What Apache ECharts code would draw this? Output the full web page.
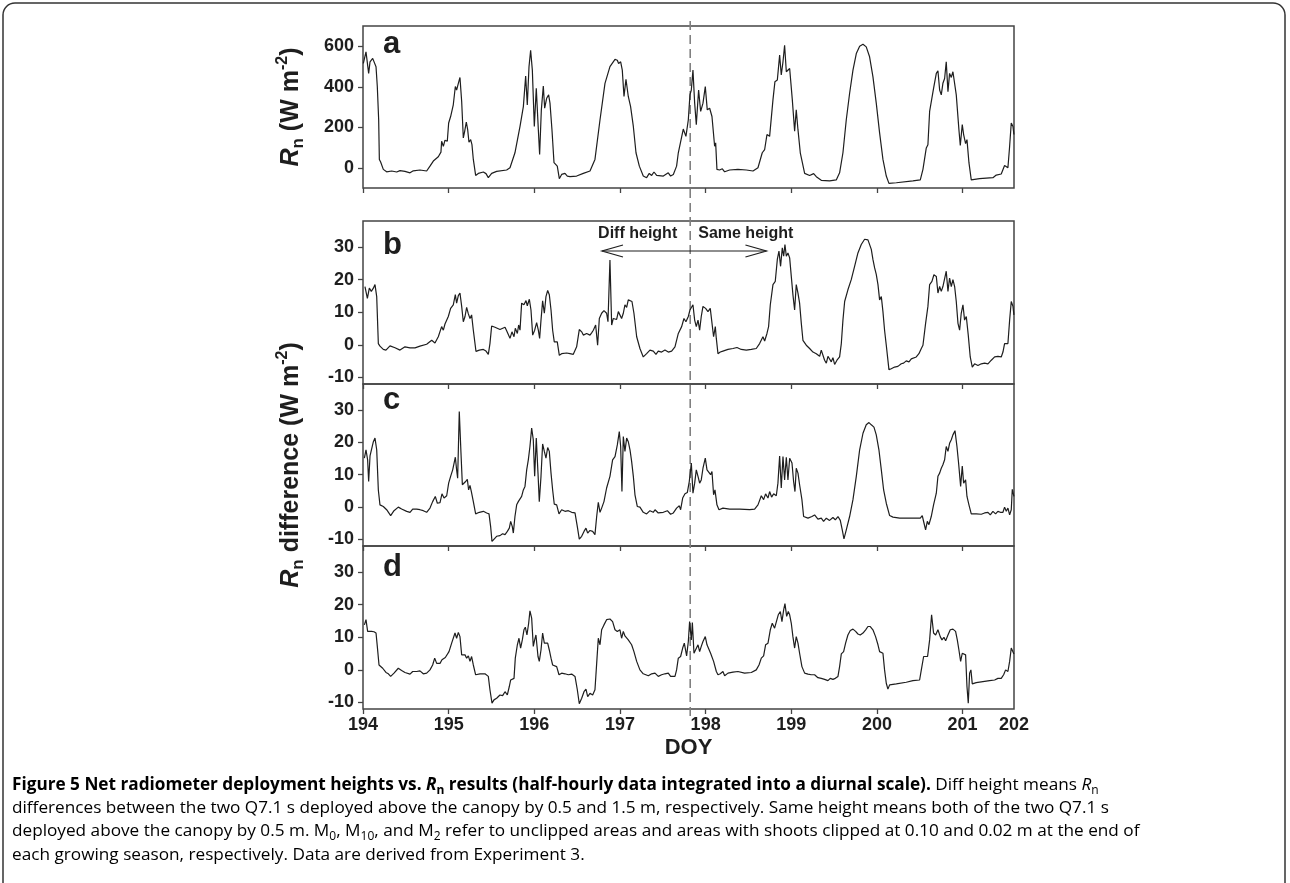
<!DOCTYPE html>
<html>
<head>
<meta charset="utf-8">
<script src="https://cdn.jsdelivr.net/npm/echarts@6/dist/echarts.min.js"></script>
<style>
html,body{margin:0;padding:0;background:#fff;}
#chart{width:1290px;height:883px;}
</style>
</head>
<body>
<div id="chart"></div>
<script>
// ---------------- data (DOY, value) ----------------
const doyTicks = [194, 195, 196, 197, 198, 199, 200, 201];
const doyMin = 194, doyMax = 201.6, doyEndLabel = '202';
const rnTicks = [0, 200, 400, 600];
const diffTicks = [-10, 0, 10, 20, 30];
const splitDOY = 197.82;

// a: Rn (W m-2)
const rnA = [[194.004,515],[194.035,572],[194.066,466],[194.082,523],[194.113,540],[194.132,535],[194.152,499],[194.167,401],[194.183,237],[194.191,41],[194.206,28],[194.237,-8],[194.276,-20],[194.335,-16],[194.393,-21],[194.432,-14],[194.49,-18],[194.549,-25],[194.587,-15],[194.665,-11],[194.743,-16],[194.782,8],[194.821,33],[194.879,54],[194.91,77],[194.918,131],[194.938,106],[194.957,136],[194.984,131],[195.0,221],[195.023,253],[195.054,311],[195.078,401],[195.093,384],[195.113,417],[195.132,446],[195.152,327],[195.171,147],[195.187,180],[195.206,226],[195.222,188],[195.237,126],[195.257,139],[195.272,114],[195.288,41],[195.315,-38],[195.346,-28],[195.405,-21],[195.436,-29],[195.463,-49],[195.502,-28],[195.56,-18],[195.677,-11],[195.716,0],[195.774,74],[195.833,204],[195.872,302],[195.899,453],[195.918,310],[195.938,499],[195.957,580],[195.977,482],[196.0,204],[196.023,392],[196.047,188],[196.062,65],[196.082,286],[196.105,404],[196.121,294],[196.144,343],[196.167,360],[196.183,319],[196.206,188],[196.23,25],[196.253,16],[196.268,8],[196.292,-54],[196.319,-33],[196.358,-28],[196.385,-41],[196.416,-44],[196.494,-41],[196.572,-28],[196.65,-16],[196.708,41],[196.767,237],[196.825,417],[196.883,499],[196.942,535],[196.969,531],[196.984,515],[197.008,523],[197.027,482],[197.047,352],[197.07,437],[197.097,352],[197.124,302],[197.156,204],[197.187,74],[197.226,8],[197.272,-41],[197.311,-49],[197.342,-28],[197.37,-38],[197.397,-21],[197.428,-38],[197.506,-41],[197.564,-25],[197.591,-41],[197.623,-33],[197.661,8],[197.681,74],[197.7,82],[197.739,191],[197.77,155],[197.798,237],[197.817,360],[197.833,384],[197.852,482],[197.872,319],[197.891,213],[197.918,384],[197.942,278],[197.969,319],[197.996,401],[198.019,286],[198.047,294],[198.074,253],[198.086,261],[198.105,106],[198.117,123],[198.132,-8],[198.163,-11],[198.195,-5],[198.222,-20],[198.28,-11],[198.377,-8],[198.475,-11],[198.553,-16],[198.611,0],[198.661,74],[198.689,90],[198.716,164],[198.747,155],[198.786,335],[198.809,425],[198.837,433],[198.864,556],[198.883,458],[198.903,523],[198.922,605],[198.942,474],[198.961,466],[198.981,490],[199.012,335],[199.039,180],[199.058,286],[199.078,188],[199.105,74],[199.156,-28],[199.214,-38],[199.261,-29],[199.292,-44],[199.35,-62],[199.447,-65],[199.525,-60],[199.564,-25],[199.603,74],[199.642,237],[199.681,368],[199.72,482],[199.759,564],[199.798,600],[199.837,610],[199.875,597],[199.914,548],[199.953,450],[199.992,319],[200.031,172],[200.07,41],[200.109,-41],[200.14,-77],[200.226,-74],[200.42,-65],[200.506,-60],[200.537,-8],[200.576,98],[200.595,114],[200.615,278],[200.634,286],[200.661,392],[200.693,466],[200.712,479],[200.732,384],[200.751,360],[200.77,417],[200.79,441],[200.809,523],[200.829,376],[200.848,466],[200.868,446],[200.887,474],[200.907,466],[200.926,360],[200.957,188],[200.973,110],[200.996,213],[201.012,164],[201.035,119],[201.051,139],[201.074,25],[201.101,-60],[201.198,-54],[201.354,-49],[201.393,-36],[201.451,-31],[201.49,11],[201.51,5],[201.529,0],[201.549,106],[201.568,221],[201.588,204],[201.599,164]];

// b: Rn difference, diff height then same height (W m-2)
const diffB = [[194.023,17.9],[194.051,14.3],[194.074,17.4],[194.097,16.4],[194.121,17.4],[194.14,18.5],[194.16,14.8],[194.179,0.4],[194.198,-0.4],[194.237,-1.4],[194.268,-1.6],[194.315,-0.3],[194.374,-0.9],[194.432,-1.6],[194.49,-0.6],[194.549,-0.9],[194.607,-0.9],[194.665,-0.4],[194.743,0.2],[194.802,1.4],[194.84,0.6],[194.879,2.5],[194.918,5.6],[194.938,4.5],[194.957,6.4],[194.977,6.1],[194.996,8.7],[195.023,11.2],[195.054,12.3],[195.078,15.4],[195.093,12.8],[195.113,15.1],[195.132,15.9],[195.152,11.8],[195.171,7.1],[195.191,8.7],[195.21,11.5],[195.23,9.5],[195.249,8.1],[195.268,9.2],[195.288,4.5],[195.319,-2.0],[195.358,-1.6],[195.405,-1.4],[195.436,-1.9],[195.463,-2.9],[195.482,0.4],[195.502,5.8],[195.541,5.4],[195.599,4.7],[195.658,5.4],[195.677,4.3],[195.716,2.0],[195.739,4.0],[195.763,2.5],[195.778,5.1],[195.802,3.5],[195.817,6.1],[195.833,4.5],[195.852,12.8],[195.879,12.3],[195.903,13.6],[195.918,12.0],[195.942,14.0],[195.961,10.7],[195.981,3.0],[196.004,4.5],[196.027,6.8],[196.047,4.5],[196.062,2.0],[196.078,7.6],[196.097,13.5],[196.117,9.7],[196.136,14.8],[196.156,16.7],[196.175,15.4],[196.195,10.7],[196.214,4.5],[196.233,0.9],[196.253,0.4],[196.268,0.9],[196.292,-3.2],[196.319,-2.7],[196.338,-2.2],[196.377,-2.5],[196.416,-2.7],[196.455,-2.9],[196.494,-0.6],[196.525,4.7],[196.553,4.0],[196.572,3.0],[196.591,2.5],[196.611,3.5],[196.63,4.0],[196.65,3.0],[196.669,3.7],[196.689,4.5],[196.716,6.1],[196.739,-0.1],[196.759,8.1],[196.786,9.7],[196.813,10.5],[196.844,9.7],[196.86,7.1],[196.883,26.0],[196.903,6.1],[196.922,8.1],[196.942,8.7],[196.961,7.8],[196.981,10.2],[197.0,10.7],[197.019,8.1],[197.039,9.7],[197.058,12.3],[197.078,11.5],[197.097,13.8],[197.117,14.3],[197.14,13.3],[197.163,9.7],[197.195,2.5],[197.233,-1.1],[197.272,-3.7],[197.311,-2.7],[197.35,-1.6],[197.389,-1.9],[197.42,-2.9],[197.447,-1.9],[197.486,-2.2],[197.525,-1.6],[197.564,-2.2],[197.603,-1.9],[197.642,-0.6],[197.681,3.5],[197.72,5.6],[197.747,8.1],[197.77,7.1],[197.798,8.7],[197.817,10.7],[197.837,11.2],[197.852,12.3],[197.872,7.6],[197.891,5.6],[197.911,7.6],[197.93,4.5],[197.949,8.7],[197.969,11.8],[198.0,11.2],[198.027,10.2],[198.054,11.2],[198.074,11.5],[198.093,2.5],[198.113,5.6],[198.125,1.9],[198.144,-2.7],[198.171,-2.2],[198.202,-1.9],[198.261,-1.4],[198.319,-1.1],[198.366,-0.8],[198.416,-1.4],[198.475,-1.6],[198.533,-1.4],[198.591,-1.1],[198.63,0.4],[198.669,2.5],[198.689,1.2],[198.716,3.5],[198.735,5.6],[198.755,12.3],[198.786,18.5],[198.813,19.5],[198.837,26.2],[198.856,28.8],[198.875,24.1],[198.895,29.8],[198.911,27.2],[198.926,30.8],[198.942,27.2],[198.961,28.2],[198.981,26.7],[199.0,21.0],[199.019,15.4],[199.039,10.7],[199.058,18.5],[199.078,15.9],[199.097,12.8],[199.117,6.6],[199.136,1.4],[199.175,-0.1],[199.214,-1.1],[199.253,-2.2],[199.292,-2.7],[199.331,-3.5],[199.35,-1.6],[199.37,-2.2],[199.389,-4.7],[199.409,-5.6],[199.428,-3.5],[199.447,-3.7],[199.467,-5.2],[199.486,-3.9],[199.506,-6.0],[199.533,-4.7],[199.564,-3.7],[199.584,0.4],[199.603,7.6],[199.623,13.3],[199.661,16.9],[199.7,20.0],[199.739,24.1],[199.778,28.2],[199.817,30.8],[199.856,32.4],[199.895,32.2],[199.914,31.9],[199.934,29.3],[199.953,26.2],[199.973,23.6],[199.992,21.6],[200.012,18.5],[200.031,13.8],[200.051,14.8],[200.07,10.2],[200.089,4.5],[200.109,-0.1],[200.14,-7.6],[200.167,-7.3],[200.206,-6.8],[200.245,-6.6],[200.284,-5.8],[200.311,-5.6],[200.342,-4.9],[200.374,-5.2],[200.401,-4.3],[200.42,-4.5],[200.459,-3.7],[200.49,-2.7],[200.518,-1.1],[200.537,-0.1],[200.568,6.6],[200.595,11.8],[200.615,18.5],[200.642,19.5],[200.665,21.5],[200.693,21.0],[200.712,15.9],[200.732,17.9],[200.751,16.4],[200.77,17.9],[200.79,18.5],[200.809,22.6],[200.829,16.4],[200.848,20.5],[200.868,17.9],[200.887,20.0],[200.907,17.9],[200.926,13.3],[200.946,6.6],[200.965,4.5],[200.984,9.7],[201.004,12.3],[201.023,7.6],[201.043,8.7],[201.066,3.0],[201.089,-3.7],[201.113,-6.8],[201.14,-5.8],[201.179,-6.3],[201.218,-5.8],[201.257,-5.6],[201.296,-5.8],[201.335,-4.7],[201.374,-3.7],[201.412,-3.5],[201.451,-3.7],[201.471,-2.2],[201.49,0.4],[201.51,-0.1],[201.529,0.4],[201.549,7.6],[201.568,13.3],[201.588,11.8],[201.599,9.2]];

// c
const diffC = [[194.016,15.1],[194.035,17.7],[194.054,14.6],[194.066,7.9],[194.082,15.8],[194.101,16.1],[194.121,20.2],[194.14,21.3],[194.16,17.7],[194.179,5.3],[194.198,0.7],[194.237,0.2],[194.276,-0.8],[194.323,-2.6],[194.362,-1.1],[194.412,0],[194.451,-0.6],[194.51,-1.3],[194.549,-1.6],[194.58,-0.6],[194.626,-0.6],[194.665,-0.8],[194.704,-1.1],[194.743,-1.6],[194.782,-0.3],[194.813,1.7],[194.844,3.3],[194.868,1.2],[194.899,1.4],[194.922,4.1],[194.946,2.8],[194.977,3.5],[195.0,7.4],[195.023,9.5],[195.047,11.5],[195.062,12.0],[195.078,15.4],[195.093,11.5],[195.105,8.9],[195.124,29.5],[195.144,16.6],[195.16,6.9],[195.179,7.4],[195.198,7.9],[195.218,8.6],[195.233,5.3],[195.249,6.7],[195.265,4.8],[195.288,1.7],[195.315,-2.1],[195.358,-1.6],[195.405,-1.3],[195.444,-1.8],[195.471,-2.1],[195.49,-6.0],[195.506,-10.6],[195.529,-10.3],[195.56,-9.0],[195.599,-8.8],[195.63,-8.2],[195.658,-8.5],[195.685,-7.5],[195.708,-6.5],[195.724,-4.4],[195.743,-6.0],[195.755,-8.0],[195.774,-2.9],[195.794,0.7],[195.813,1.7],[195.833,1.2],[195.852,3.3],[195.872,5.3],[195.891,6.4],[195.911,11.5],[195.93,14.6],[195.949,18.7],[195.969,24.4],[195.988,20.8],[196.004,9.5],[196.023,21.3],[196.043,10.5],[196.058,1.7],[196.078,9.5],[196.097,19.5],[196.117,17.2],[196.136,15.1],[196.156,18.4],[196.175,17.2],[196.195,10.5],[196.214,5.3],[196.233,0.9],[196.261,0.7],[196.288,-2.1],[196.319,-0.8],[196.358,-1.3],[196.397,-1.1],[196.436,-1.6],[196.475,-1.8],[196.502,-6.0],[196.525,-9.9],[196.553,-9.0],[196.58,-7.5],[196.603,-6.5],[196.623,-8.0],[196.65,-7.2],[196.681,-7.5],[196.708,-8.5],[196.728,-2.9],[196.747,1.5],[196.767,-1.6],[196.786,-0.3],[196.813,1.7],[196.844,5.9],[196.883,9.5],[196.914,14.6],[196.942,15.6],[196.969,19.2],[196.992,23.3],[197.008,18.7],[197.023,4.8],[197.039,21.8],[197.058,17.2],[197.078,21.3],[197.097,20.2],[197.117,17.7],[197.136,14.1],[197.156,9.5],[197.175,3.8],[197.202,0.2],[197.233,0],[197.272,-1.6],[197.311,-2.1],[197.35,-1.1],[197.389,-1.6],[197.409,-0.8],[197.447,-1.8],[197.506,-1.6],[197.553,-1.1],[197.591,-2.2],[197.623,-1.8],[197.661,-0.3],[197.693,0.4],[197.708,-0.8],[197.732,2.8],[197.759,4.1],[197.786,4.5],[197.809,7.9],[197.833,13.6],[197.852,4.3],[197.872,7.4],[197.891,11.5],[197.911,9.5],[197.93,7.4],[197.949,8.4],[197.969,12.0],[197.996,15.1],[198.016,11.5],[198.039,11.0],[198.058,10.0],[198.074,11.0],[198.093,3.8],[198.109,5.3],[198.132,0.7],[198.156,-0.8],[198.202,-0.3],[198.28,-0.6],[198.397,-0.6],[198.514,-0.8],[198.572,-0.6],[198.611,0.7],[198.65,3.5],[198.677,2.3],[198.7,4.1],[198.728,2.8],[198.747,4.8],[198.77,3.1],[198.794,4.1],[198.825,3.5],[198.844,7.4],[198.864,15.8],[198.883,5.9],[198.903,15.6],[198.922,8.4],[198.942,15.4],[198.961,8.4],[198.981,15.1],[199.008,13.6],[199.027,7.9],[199.043,4.8],[199.058,12.0],[199.078,10.5],[199.097,6.9],[199.124,2.3],[199.144,-2.9],[199.195,-3.4],[199.241,-2.9],[199.272,-2.4],[199.311,-3.7],[199.35,-3.4],[199.377,-4.4],[199.409,-3.4],[199.447,-4.1],[199.486,-3.2],[199.514,-3.9],[199.545,-2.9],[199.572,-4.1],[199.595,-7.0],[199.615,-9.8],[199.642,-7.0],[199.681,-2.9],[199.72,2.3],[199.759,9.5],[199.798,17.7],[199.837,22.8],[199.875,25.4],[199.907,26.1],[199.934,25.4],[199.965,24.7],[199.992,22.3],[200.023,17.7],[200.051,11.5],[200.078,5.3],[200.109,1.2],[200.148,-2.6],[200.187,-3.1],[200.265,-3.4],[200.381,-3.4],[200.459,-3.4],[200.506,-3.4],[200.529,-2.6],[200.549,-4.9],[200.568,-7.0],[200.588,-4.4],[200.607,-5.4],[200.634,-2.9],[200.661,0.7],[200.693,4.3],[200.712,9.5],[200.732,10.5],[200.751,12.0],[200.77,13.1],[200.79,14.6],[200.809,18.7],[200.829,17.2],[200.848,19.7],[200.868,20.8],[200.887,22.3],[200.911,23.6],[200.934,18.7],[200.953,13.6],[200.977,6.4],[200.996,12.7],[201.012,7.4],[201.035,8.4],[201.051,3.3],[201.074,0.7],[201.101,-2.1],[201.159,-2.1],[201.218,-2.2],[201.257,-1.8],[201.296,-1.6],[201.323,-2.4],[201.354,-1.3],[201.385,-2.1],[201.412,-1.3],[201.44,-1.6],[201.471,-1.6],[201.49,0],[201.51,-1.3],[201.529,-0.3],[201.549,-2.4],[201.568,-0.8],[201.58,5.5],[201.599,3.3]];

// d
const diffD = [[194.016,13.8],[194.035,15.4],[194.054,11.8],[194.074,11.3],[194.101,11.8],[194.128,11.7],[194.152,11.3],[194.167,7.2],[194.187,1.5],[194.21,1.0],[194.23,0.5],[194.245,0.8],[194.268,-0.8],[194.296,-1.2],[194.323,-2.0],[194.362,-1.0],[194.412,0.5],[194.451,-0.2],[194.49,-0.8],[194.549,-1.3],[194.58,-0.5],[194.626,-0.5],[194.665,-0.3],[194.704,-1.2],[194.743,-1.0],[194.782,0],[194.813,1.5],[194.837,3.6],[194.86,2.0],[194.899,2.0],[194.922,3.1],[194.938,2.8],[194.961,3.8],[194.984,3.6],[195.004,5.6],[195.035,8.2],[195.054,8.7],[195.074,11.3],[195.093,9.7],[195.113,11.5],[195.132,10.2],[195.152,4.6],[195.171,4.1],[195.191,4.6],[195.21,3.6],[195.23,4.3],[195.249,2.6],[195.268,4.1],[195.288,1.5],[195.315,-1.5],[195.366,-1.2],[195.424,-1.2],[195.463,-2.0],[195.482,-6.1],[195.506,-10.2],[195.529,-9.2],[195.56,-8.7],[195.599,-7.7],[195.63,-7.9],[195.658,-6.7],[195.685,-7.7],[195.708,-5.1],[195.724,-3.1],[195.743,-3.6],[195.763,-2.6],[195.778,3.6],[195.802,7.7],[195.821,9.7],[195.84,6.7],[195.86,9.2],[195.879,12.3],[195.895,13.1],[195.914,10.7],[195.934,14.3],[195.949,18.1],[195.969,15.9],[195.988,7.2],[196.004,9.2],[196.019,10.7],[196.043,4.1],[196.058,2.6],[196.078,6.1],[196.097,11.3],[196.117,8.2],[196.136,7.7],[196.156,8.2],[196.175,6.1],[196.195,3.6],[196.214,1.5],[196.233,2.0],[196.261,1.0],[196.288,-1.5],[196.319,-1.0],[196.358,-1.2],[196.397,-1.5],[196.436,-1.3],[196.475,-2.0],[196.502,-6.1],[196.525,-10.4],[196.553,-8.7],[196.58,-6.7],[196.603,-5.9],[196.623,-8.2],[196.65,-7.2],[196.681,-7.7],[196.708,-6.1],[196.728,2.0],[196.747,9.7],[196.767,7.7],[196.786,12.3],[196.813,13.8],[196.844,15.4],[196.883,15.6],[196.914,14.8],[196.942,12.3],[196.969,11.8],[197.0,12.3],[197.019,9.7],[197.039,11.8],[197.058,10.4],[197.097,9.2],[197.136,7.7],[197.163,5.6],[197.195,2.6],[197.233,0],[197.272,-1.2],[197.331,-1.8],[197.37,-1.2],[197.409,-1.0],[197.447,-2.0],[197.486,-1.5],[197.525,-1.2],[197.564,-1.0],[197.591,-2.0],[197.642,-2.0],[197.661,0],[197.681,3.6],[197.708,4.1],[197.732,6.7],[197.751,8.2],[197.778,4.3],[197.798,8.7],[197.813,14.8],[197.833,9.2],[197.845,14.5],[197.864,5.1],[197.883,5.6],[197.911,7.7],[197.93,5.6],[197.949,7.2],[197.969,8.7],[197.996,10.2],[198.016,7.7],[198.039,7.7],[198.058,5.1],[198.074,4.6],[198.093,2.6],[198.109,2.0],[198.125,-0.5],[198.144,-1.5],[198.171,-1.2],[198.202,-0.5],[198.222,-1.8],[198.261,-1.0],[198.319,-0.7],[198.377,-0.5],[198.455,-1.0],[198.533,-0.8],[198.591,0],[198.623,1.5],[198.65,3.6],[198.677,4.3],[198.7,7.7],[198.728,8.2],[198.755,12.3],[198.778,14.3],[198.805,12.8],[198.825,12.3],[198.848,16.9],[198.872,17.9],[198.891,14.8],[198.911,18.4],[198.926,20.3],[198.946,16.4],[198.965,17.9],[198.981,16.9],[199.0,14.3],[199.019,10.2],[199.039,6.7],[199.058,10.2],[199.078,8.2],[199.097,5.1],[199.124,1.0],[199.156,-1.0],[199.195,-1.3],[199.233,-1.5],[199.272,-1.5],[199.311,-2.4],[199.35,-2.6],[199.389,-2.9],[199.428,-3.3],[199.455,-2.6],[199.486,-2.9],[199.514,-2.6],[199.545,-2.0],[199.564,1.0],[199.584,4.9],[199.611,5.6],[199.634,8.2],[199.661,10.7],[199.689,12.1],[199.72,12.5],[199.751,11.8],[199.778,11.0],[199.805,10.7],[199.837,11.3],[199.868,12.3],[199.895,13.3],[199.922,13.3],[199.953,12.3],[199.984,10.2],[200.012,7.7],[200.031,5.6],[200.051,6.1],[200.07,5.1],[200.089,0],[200.109,-4.1],[200.128,-5.9],[200.148,-4.6],[200.226,-4.3],[200.342,-3.8],[200.42,-3.3],[200.498,-3.1],[200.518,0],[200.545,4.1],[200.568,4.6],[200.591,4.1],[200.615,9.2],[200.638,16.9],[200.661,11.3],[200.685,10.7],[200.712,12.3],[200.739,10.2],[200.759,9.2],[200.782,10.0],[200.802,8.9],[200.829,10.7],[200.856,12.3],[200.887,12.5],[200.918,11.8],[200.938,9.2],[200.957,6.1],[200.977,2.6],[200.996,5.1],[201.012,4.9],[201.035,4.6],[201.051,-5.1],[201.066,-10.2],[201.082,-1.0],[201.097,0],[201.113,-4.3],[201.159,-3.9],[201.237,-3.6],[201.315,-3.3],[201.374,-3.1],[201.412,-2.6],[201.451,-2.6],[201.479,-1.5],[201.502,0],[201.529,-0.5],[201.549,2.6],[201.568,6.7],[201.588,6.1],[201.599,4.9]];

const panelLetters = ['a', 'b', 'c', 'd'];
const heightLabels = ['Diff height', 'Same height'];
const arrowSpan = [196.79, 198.71];

const captionLines = [
  '{fb|Figure 5 Net radiometer deployment heights vs. }{fbi|R}{fbs|n}{fb| results (half-hourly data integrated into a diurnal scale).}{f| Diff height means }{fi|R}{fs|n}',
  '{f|differences between the two Q7.1 s deployed above the canopy by 0.5 and 1.5 m, respectively. Same height means both of the two Q7.1 s}',
  '{f|deployed above the canopy by 0.5 m. M}{fs|0}{f|, M}{fs|10}{f|, and M}{fs|2}{f| refer to unclipped areas and areas with shoots clipped at 0.10 and 0.02 m at the end of}',
  '{f|each growing season, respectively. Data are derived from Experiment 3.}'
];

// ---------------- layout / style ----------------
const FONT = 'Liberation Sans, Arial, Helvetica, sans-serif';
const CAPFONT = 'Open Sans, Noto Sans, sans-serif';
const INK = '#1e1e1e';
const FRAME = '#444';
const plotLeft = 363, plotRight = 1290 - 1014;
const grids = [
  {top: 26, height: 162},
  {top: 221, height: 163},
  {top: 384, height: 162},
  {top: 546, height: 163}
];

const titleRich = {
  i: {fontFamily: FONT, fontSize: 25, fontWeight: 'bold', fontStyle: 'italic', color: INK, lineHeight: 32},
  b: {fontFamily: FONT, fontSize: 25, fontWeight: 'bold', color: INK, lineHeight: 32},
  s: {fontFamily: FONT, fontSize: 17, fontWeight: 'bold', color: INK, lineHeight: 17, verticalAlign: 'bottom'},
  p: {fontFamily: FONT, fontSize: 16, fontWeight: 'bold', color: INK, lineHeight: 16, verticalAlign: 'top'}
};

function xAxisFor(i, showLabels) {
  return {
    type: 'value', gridIndex: i, min: doyMin, max: doyMax,
    axisLine: {show: false, onZero: false},
    splitLine: {show: false},
    axisTick: {show: true, inside: false, length: 5, customValues: doyTicks,
      lineStyle: {color: FRAME, width: 1.3}},
    axisLabel: {show: showLabels, customValues: doyTicks.concat([doyMax]), margin: 7,
      fontFamily: FONT, fontSize: 18, fontWeight: 'bold', color: INK,
      formatter: v => (Math.abs(v - doyMax) < 1e-6 ? doyEndLabel : String(v))},
    name: showLabels ? 'DOY' : '',
    nameLocation: 'middle', nameGap: 28,
    nameTextStyle: {fontFamily: FONT, fontSize: 22, fontWeight: 'bold', color: INK}
  };
}
function yAxisFor(i, min, max, ticks, name) {
  return {
    type: 'value', gridIndex: i, min: min, max: max,
    axisLine: {show: false, onZero: false},
    splitLine: {show: false},
    axisTick: {show: true, inside: false, length: 5, customValues: ticks,
      lineStyle: {color: FRAME, width: 1.3}},
    axisLabel: {customValues: ticks, margin: 9, fontFamily: FONT, fontSize: 18,
      fontWeight: 'bold', color: INK},
    name: name || '',
    nameLocation: 'middle', nameRotate: 90, nameGap: 56,
    nameTextStyle: {rich: titleRich}
  };
}

const lineSeries = (data, i) => ({
  type: 'line', xAxisIndex: i, yAxisIndex: i, data: data,
  showSymbol: false, symbol: 'none', smooth: false, z: 3,
  lineStyle: {color: INK, width: 1.2}
});

const CAPFS = 17.2;
const capRich = {
  fb: {fontFamily: CAPFONT, fontSize: CAPFS, fontWeight: 'bold', color: '#111', lineHeight: 23},
  fbi: {fontFamily: CAPFONT, fontSize: CAPFS, fontWeight: 'bold', fontStyle: 'italic', color: '#111', lineHeight: 23},
  fbs: {fontFamily: CAPFONT, fontSize: 12, fontWeight: 'bold', color: '#111', lineHeight: 12, verticalAlign: 'bottom'},
  f: {fontFamily: CAPFONT, fontSize: CAPFS, color: '#333', lineHeight: 23},
  fi: {fontFamily: CAPFONT, fontSize: CAPFS, fontStyle: 'italic', color: '#333', lineHeight: 23},
  fs: {fontFamily: CAPFONT, fontSize: 12, color: '#333', lineHeight: 12, verticalAlign: 'bottom'}
};
const captionCenters = [785, 808, 831, 855];
const letterCenters = [44, 245, 400, 567];

const chart = echarts.init(document.getElementById('chart'), null, {renderer: 'canvas'});

const option = {
  animation: false,
  backgroundColor: '#fff',
  grid: grids.map(g => ({left: plotLeft, right: plotRight, top: g.top, height: g.height,
      show: true, borderColor: FRAME, borderWidth: 1.5, backgroundColor: 'transparent'}))
    .concat([{left: plotLeft, right: plotRight, top: 20, height: 696, show: false}]),
  xAxis: [xAxisFor(0, false), xAxisFor(1, false), xAxisFor(2, false), xAxisFor(3, true),
    {type: 'value', gridIndex: 4, min: doyMin, max: doyMax, show: false}],
  yAxis: [
    yAxisFor(0, -100, 700, rnTicks, '{i|R}{s|n}{b| (W m}{p|-2}{b|)}'),
    yAxisFor(1, -12, 38, diffTicks),
    yAxisFor(2, -12, 38, diffTicks, '{i|R}{s|n}{b| difference (W m}{p|-2}{b|)}'),
    yAxisFor(3, -12, 38, diffTicks),
    {type: 'value', gridIndex: 4, min: 0, max: 1, show: false}
  ],
  series: [
    lineSeries(rnA, 0), lineSeries(diffB, 1), lineSeries(diffC, 2), lineSeries(diffD, 3),
    {
      type: 'line', xAxisIndex: 4, yAxisIndex: 4, showSymbol: false, symbol: 'none', z: 1,
      data: [[splitDOY, 0], [splitDOY, 1]],
      lineStyle: {color: '#808080', width: 1.6, type: [9, 5]}
    },
    {
      type: 'custom', xAxisIndex: 1, yAxisIndex: 1, z: 4,
      data: [[arrowSpan[0], arrowSpan[1], 28.8]],
      renderItem: function (params, api) {
        const p1 = api.coord([api.value(0), api.value(2)]);
        const p2 = api.coord([api.value(1), api.value(2)]);
        const mid = api.coord([splitDOY, 34.2]);
        const h = 21, w = 6;
        const st = {stroke: INK, lineWidth: 1.2, fill: null};
        const tf = 'bold 16px ' + FONT;
        return {type: 'group', children: [
          {type: 'line', shape: {x1: p1[0], y1: p1[1], x2: p2[0], y2: p2[1]}, style: st},
          {type: 'polyline', shape: {points: [[p1[0] + h, p1[1] - w], [p1[0], p1[1]], [p1[0] + h, p1[1] + w]]}, style: st},
          {type: 'polyline', shape: {points: [[p2[0] - h, p2[1] - w], [p2[0], p2[1]], [p2[0] - h, p2[1] + w]]}, style: st},
          {type: 'text', x: mid[0] - 13, y: mid[1], style: {text: heightLabels[0], font: tf, fill: INK, align: 'right', verticalAlign: 'middle'}},
          {type: 'text', x: mid[0] + 8, y: mid[1], style: {text: heightLabels[1], font: tf, fill: INK, align: 'left', verticalAlign: 'middle'}}
        ]};
      }
    }
  ],
  graphic: [
    {type: 'rect', shape: {x: 3, y: 3, width: 1282, height: 940, r: 12}, silent: true, z: -1,
      style: {fill: null, stroke: '#333', lineWidth: 1.5}}
  ].concat(panelLetters.map((t, i) => ({
    type: 'text', x: 383, y: letterCenters[i], z: 10,
    style: {text: t, font: 'bold 31px ' + FONT, fill: INK, verticalAlign: 'middle', align: 'left'}
  }))).concat(captionLines.map((t, i) => ({
    type: 'text', x: 12, y: captionCenters[i] - 11.5, z: 10,
    style: {text: t, rich: capRich, verticalAlign: 'top', align: 'left'}
  })))
};
chart.setOption(option);
</script>
</body>
</html>
